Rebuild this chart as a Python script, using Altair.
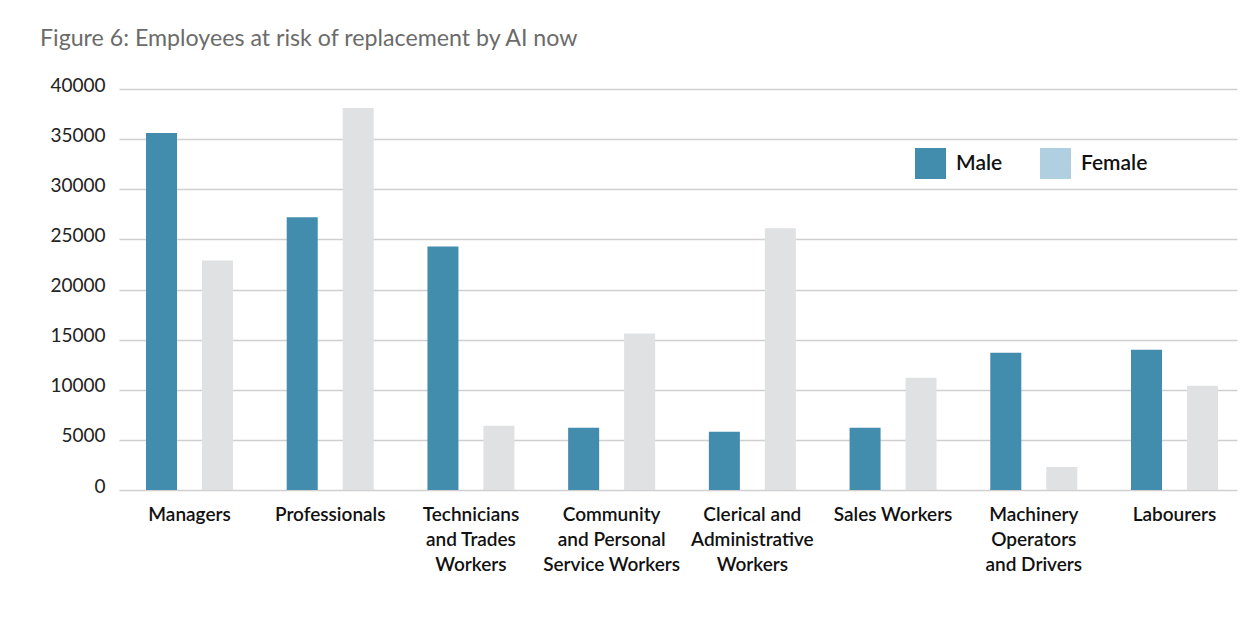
import altair as alt
import pandas as pd

categories = [
    "Managers",
    "Professionals",
    "Technicians|and Trades|Workers",
    "Community|and Personal|Service Workers",
    "Clerical and|Administrative|Workers",
    "Sales Workers",
    "Machinery|Operators|and Drivers",
    "Labourers",
]
male = [35600, 27200, 24300, 6200, 5800, 6200, 13700, 14000]
female = [22900, 38100, 6400, 15600, 26100, 11200, 2300, 10400]
genders = ["Male", "Female"]
y_ticks = [0, 5000, 10000, 15000, 20000, 25000, 30000, 35000, 40000]

rows = []
for c, m, f in zip(categories, male, female):
    rows.append({"category": c, "gender": "Male", "value": m})
    rows.append({"category": c, "gender": "Female", "value": f})
df = pd.DataFrame(rows)

FONT = "Lato"

base = alt.Chart(df)

bars = base.mark_bar().encode(
    x=alt.X(
        "category:N",
        sort=categories,
        scale=alt.Scale(paddingInner=0.3817, paddingOuter=0.1635, align=0.587),
        axis=alt.Axis(
            title=None,
            labelAngle=0,
            labelExpr="split(datum.label, '|')",
            ticks=False,
            domain=False,
            grid=False,
            labelPadding=15,
            labelFont=FONT,
            labelFontSize=19,
            labelFontWeight=600,
            labelColor="#111111",
            labelLineHeight=25,
            labelBaseline="top",
        ),
    ),
    xOffset=alt.XOffset(
        "gender:N", sort=genders, scale=alt.Scale(paddingInner=0.446, paddingOuter=0)
    ),
    y=alt.Y(
        "value:Q",
        scale=alt.Scale(domain=[0, 40000], nice=False),
        axis=alt.Axis(
            title=None,
            values=y_ticks,
            format="d",
            ticks=False,
            domain=False,
            labelPadding=14,
            labelFont=FONT,
            labelFontSize=19,
            labelColor="#222222",
            labelOffset=-4,
            gridColor="#d0d0d0",
            gridWidth=1.5,
        ),
    ),
    color=alt.Color(
        "gender:N",
        scale=alt.Scale(domain=genders, range=["#428cae", "#e0e1e3"]),
        legend=None,
    ),
)

legend_layer = base.mark_square(filled=True, opacity=0).encode(
    color=alt.Color(
        "gender:N",
        scale=alt.Scale(domain=genders, range=["#428cae", "#b0cfe0"]),
        legend=alt.Legend(
            title=None,
            orient="none",
            legendX=796,
            legendY=59,
            direction="horizontal",
            symbolType="square",
            symbolSize=961,
            symbolOpacity=1,
            symbolStrokeWidth=0,
            labelFont=FONT,
            labelFontSize=21,
            labelFontWeight=600,
            labelColor="#111111",
            labelOffset=10,
            columnPadding=37,
            padding=0,
        ),
    ),
)

chart = (
    alt.layer(bars, legend_layer)
    .resolve_scale(color="independent")
    .properties(
        width=1118,
        height=401,
        autosize="none",
        padding={"left": 111, "top": 81, "right": 10, "bottom": 110},
        title=alt.Title(
            "Figure 6: Employees at risk of replacement by AI now",
            anchor="start",
            frame="group",
            dx=-79,
            offset=25,
            font=FONT,
            fontSize=23.2,
            fontWeight="normal",
            color="#6b6b6b",
        ),
    )
    .configure_view(stroke=None)
)

chart.save("out.html", embed_options={"renderer": "svg", "actions": False})
